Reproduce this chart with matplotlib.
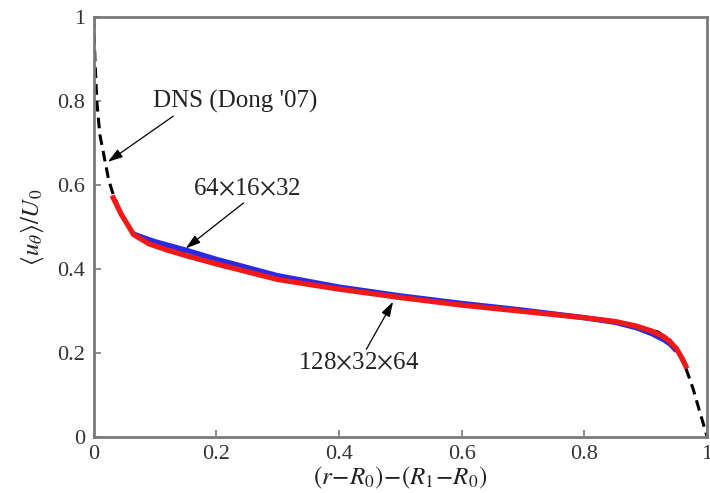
import matplotlib
matplotlib.use("Agg")
import matplotlib.pyplot as plt

# DNS (Dong '07) reference profile
dns_x = [0.0, 0.002, 0.005, 0.010, 0.018, 0.024, 0.030, 0.045, 0.065, 0.10, 0.15, 0.20,
         0.30, 0.40, 0.50, 0.60, 0.70, 0.80, 0.88, 0.92, 0.94, 0.955, 0.965, 0.977,
         0.988, 0.995, 1.0]
dns_y = [1.0, 0.90, 0.80, 0.72, 0.66, 0.615, 0.585, 0.53, 0.482, 0.458, 0.435, 0.413,
         0.377, 0.353, 0.333, 0.315, 0.300, 0.283, 0.265, 0.250, 0.230, 0.195, 0.165, 0.115,
         0.06, 0.025, 0.0]

# LES 64x16x32
les64_x = [0.062, 0.08, 0.10, 0.15, 0.20, 0.30, 0.40, 0.50, 0.60, 0.70, 0.80, 0.85,
           0.885, 0.91, 0.93, 0.94, 0.95]
les64_y = [0.485, 0.475, 0.465, 0.445, 0.423, 0.384, 0.357, 0.336, 0.318, 0.302, 0.284, 0.273,
           0.260, 0.246, 0.231, 0.221, 0.205]

# LES 128x32x64
les128_x = [0.030, 0.045, 0.065, 0.09, 0.12, 0.15, 0.20, 0.30, 0.40, 0.50, 0.60, 0.70,
            0.80, 0.85, 0.885, 0.91, 0.93, 0.94, 0.95, 0.96, 0.967]
les128_y = [0.575, 0.53, 0.482, 0.46, 0.445, 0.432, 0.412, 0.375, 0.352, 0.332, 0.314, 0.299,
            0.284, 0.275, 0.264, 0.252, 0.238, 0.226, 0.21, 0.185, 0.163]

x_ticks = [0, 0.2, 0.4, 0.6, 0.8, 1]
x_tick_labels = ["0", "0.2", "0.4", "0.6", "0.8", "1"]
y_ticks = [0, 0.2, 0.4, 0.6, 0.8, 1]
y_tick_labels = ["0", "0.2", "0.4", "0.6", "0.8", "1"]

plt.rcParams['font.family'] = ['Liberation Serif', 'DejaVu Serif']
plt.rcParams['mathtext.fontset'] = 'stix'

fig = plt.figure(figsize=(7.10, 4.93), dpi=100)
ax = fig.add_axes([0.132, 0.1136, 0.864, 0.852])

ax.plot(dns_x, dns_y, color='black', lw=2.2, ls=(0, (3.5, 2.0)), zorder=2)
ax.plot(les64_x, les64_y, color='#2a2ae0', lw=3.8, solid_capstyle='butt', zorder=3)
ax.plot(les128_x, les128_y, color='#f01818', lw=3.8, solid_capstyle='butt', zorder=4)

ax.set_xlim(0, 1)
ax.set_ylim(0, 1)
ax.set_xticks(x_ticks)
ax.set_xticklabels(x_tick_labels)
ax.set_yticks(y_ticks)
ax.set_yticklabels(y_tick_labels)

grey = '#7a7a7a'
for s in ax.spines.values():
    s.set_color(grey)
    s.set_linewidth(2.0)
ax.tick_params(direction='in', length=5, width=1.2, color=grey, labelsize=16,
               labelcolor='#333333', top=False, right=False, pad=6)

ax.set_xlabel(r'$(r\!-\!R_0)\!-\!(R_1\!-\!R_0)$', fontsize=18, labelpad=0, color='#222222')
ax.set_ylabel(r'$\langle u_\theta\rangle/U_0$', fontsize=18, labelpad=8, color='#222222')

arrow = dict(arrowstyle='-|>,head_length=0.9,head_width=0.28', color='black', lw=0.9,
             shrinkA=0, shrinkB=0, mutation_scale=10)
ax.annotate("DNS (Dong '07)", xy=(0.023, 0.655), xytext=(0.23, 0.798),
            ha='center', va='center', fontsize=18, color='#222222',
            arrowprops=dict(arrow, relpos=(0.15, 0.0)))
ax.annotate(r"64$\times$16$\times$32", xy=(0.150, 0.449), xytext=(0.25, 0.59),
            ha='center', va='center', fontsize=18, color='#222222',
            arrowprops=dict(arrow, relpos=(0.5, 0.0)))
ax.annotate(r"128$\times$32$\times$64", xy=(0.488, 0.322), xytext=(0.432, 0.176),
            ha='center', va='center', fontsize=18, color='#222222',
            arrowprops=dict(arrow, relpos=(0.55, 1.0)))

fig.savefig('out.png', dpi=100)
